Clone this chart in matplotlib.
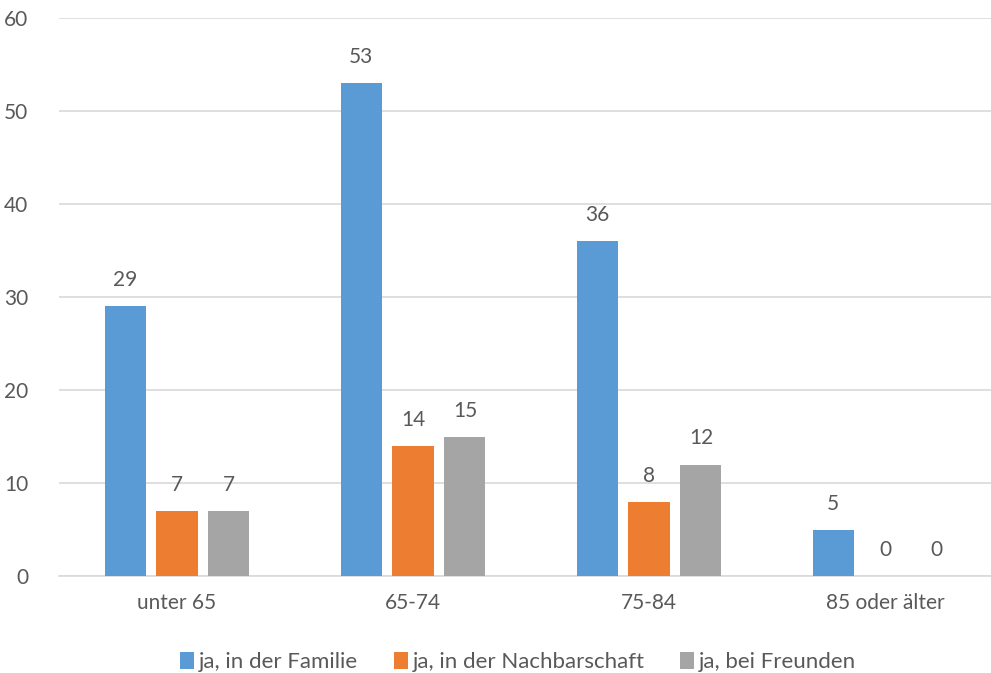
import matplotlib
matplotlib.use("Agg")
import matplotlib.pyplot as plt
import numpy as np

categories = ["unter 65", "65-74", "75-84", "85 oder älter"]
series_names = ["ja, in der Familie", "ja, in der Nachbarschaft", "ja, bei Freunden"]
familie = [29, 53, 36, 5]
nachbarschaft = [7, 14, 8, 0]
freunde = [7, 15, 12, 0]
colors = ["#5B9BD5", "#ED7D31", "#A5A5A5"]

plt.rcParams['font.family'] = ['Lato', 'DejaVu Sans']
FS = 15
LFS = 16
TC = '#595959'

fig = plt.figure(figsize=(9.91, 6.73), dpi=100)
ax = fig.add_axes([0.0595, 0.144, 0.9526, 0.829])

x = np.arange(len(categories))
width = 0.174
offset = 0.22
for i, (vals, name, c) in enumerate(zip([familie, nachbarschaft, freunde], series_names, colors)):
    pos = x + (i - 1) * offset
    ax.bar(pos, vals, width, color=c, label=name, zorder=3)
    for p, v in zip(pos, vals):
        ax.text(p, v + 2.8, str(v), ha='center', va='center', fontsize=FS, color=TC)

ax.set_xlim(-0.5, 3.5)
ax.set_ylim(0, 60)
ax.set_yticks(range(0, 61, 10))
ax.set_xticks(x)
ax.set_xticklabels(categories)
ax.yaxis.grid(True, color='#D9D9D9', linewidth=1.2, zorder=0)
for s in ['top', 'right', 'left']:
    ax.spines[s].set_visible(False)
ax.spines['bottom'].set_color('#D9D9D9')
ax.spines['bottom'].set_linewidth(1.2)
ax.tick_params(axis='both', length=0, labelsize=FS, labelcolor=TC)
ax.tick_params(axis='y', pad=22)
ax.tick_params(axis='x', pad=12)

leg = ax.legend(loc='center', ncol=3, frameon=False, fontsize=LFS,
                handlelength=0.65, handleheight=0.85, handletextpad=0.2,
                columnspacing=1.6, labelcolor=TC)
leg.set_bbox_to_anchor((518 / 991, 11 / 673), transform=fig.transFigure)

fig.savefig("out.png", dpi=100)
